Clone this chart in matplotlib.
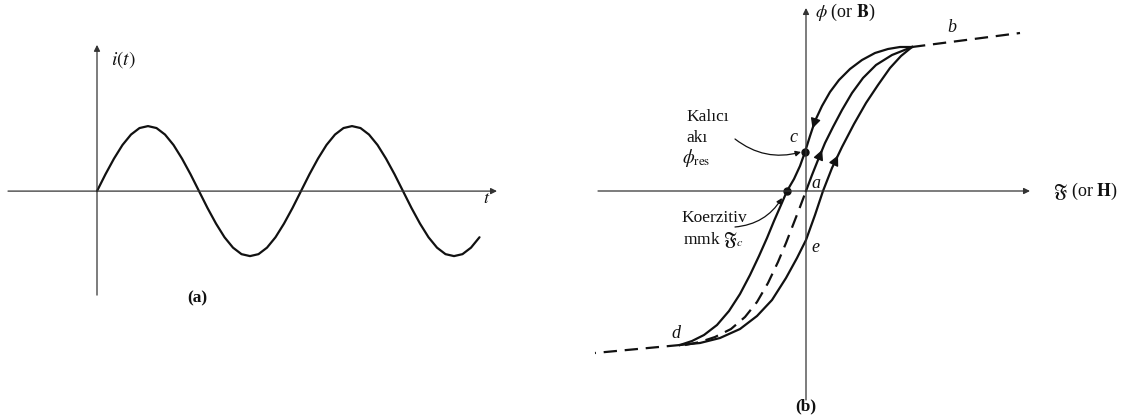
import numpy as np
import matplotlib
matplotlib.use('Agg')
import matplotlib.pyplot as plt

plt.rcParams['font.family'] = ['Liberation Serif', 'DejaVu Serif']
plt.rcParams['mathtext.fontset'] = 'stix'

INK = '#111111'
AXIS = '#333333'

# (a) sinusoidal current, sampled every 1/24 of a period
t_step = 0.085
i_vals = [0, .26, .5, .71, .87, .97, 1, .97, .87, .71, .5, .26,
          0, -.26, -.5, -.71, -.87, -.97, -1, -.97, -.87, -.71, -.5, -.26,
          0, .26, .5, .71, .87, .97, 1, .97, .87, .71, .5, .26,
          0, -.26, -.5, -.71, -.87, -.97, -1, -.97, -.87, -.71]
t_vals = np.arange(len(i_vals)) * t_step

# (b) hysteresis loop: flux phi against mmf F
# descending branch b -> c -> d
desc_H = [1.06, 0.94, 0.82, 0.69, 0.56, 0.44, 0.33, 0.24, 0.16, 0.09,
          0.04, -0.01, -0.06, -0.12, -0.19, -0.25, -0.32, -0.39, -0.47,
          -0.56, -0.66, -0.77, -0.89, -1.02, -1.14, -1.26]
desc_phi = [1.44, 1.44, 1.42, 1.38, 1.31, 1.22, 1.11, 0.99, 0.85, 0.70,
            0.55, 0.39, 0.25, 0.12, 0.0, -0.14, -0.30, -0.47, -0.65,
            -0.84, -1.03, -1.20, -1.34, -1.44, -1.50, -1.54]

# ascending branch d -> e -> b
asc_H = [-1.26, -1.06, -0.86, -0.66, -0.49, -0.34, -0.20, -0.09, 0.0, 0.09,
         0.17, 0.26, 0.36, 0.48, 0.60, 0.72, 0.84, 0.95, 1.06]
asc_phi = [-1.54, -1.52, -1.47, -1.38, -1.25, -1.09, -0.87, -0.67, -0.49, -0.24,
           0.0, 0.23, 0.44, 0.67, 0.88, 1.06, 1.23, 1.35, 1.44]

# initial magnetisation curve a -> b, and its dashed continuation below a
init_H = [0.0, 0.06, 0.12, 0.19, 0.27, 0.36, 0.46, 0.57, 0.70, 0.86, 1.06]
init_phi = [0.0, 0.16, 0.31, 0.48, 0.64, 0.81, 0.98, 1.13, 1.26, 1.36, 1.44]
init_dash_H = [-1.21, -1.06, -0.91, -0.75, -0.61, -0.49, -0.38, -0.28,
               -0.20, -0.13, -0.06, 0.0]
init_dash_phi = [-1.54, -1.51, -1.46, -1.38, -1.26, -1.11, -0.92, -0.71,
                 -0.52, -0.34, -0.16, 0.0]

sat_hi_H, sat_hi_phi = [1.06, 2.14], [1.44, 1.58]
sat_lo_H, sat_lo_phi = [-1.26, -2.11], [-1.54, -1.62]

res_point = (-0.01, 0.39)
coer_point = (-0.19, 0.0)

fig = plt.figure(figsize=(11.36, 4.16), dpi=100)

ax1 = fig.add_axes([0, 0, 560 / 1136, 1])
ax2 = fig.add_axes([560 / 1136, 0, 576 / 1136, 1])
ax1.set_xlim(-0.97, 4.63)
ax1.set_ylim(-3.46, 2.94)
ax2.set_xlim(-2.46, 3.30)
ax2.set_ylim(-2.25, 1.91)
for ax in (ax1, ax2):
    ax.axis('off')


def axis_arrow(ax, start, end):
    ax.annotate('', xy=end, xytext=start,
                arrowprops=dict(arrowstyle='-|>', color=AXIS, lw=0.9,
                                mutation_scale=9, shrinkA=0, shrinkB=0))


def curve_arrow(ax, xs, ys, k, frac=0.5):
    # small filled head sitting on segment k of a curve, pointing along it
    p0 = np.array([xs[k], ys[k]])
    p1 = np.array([xs[k + 1], ys[k + 1]])
    tip = p0 + (p1 - p0) * frac
    tail = p0 + (p1 - p0) * (frac - 0.4)
    ax.annotate('', xy=tip, xytext=tail,
                arrowprops=dict(arrowstyle='-|>,head_length=0.5,head_width=0.25',
                                color=INK, lw=1.0, mutation_scale=12,
                                shrinkA=0, shrinkB=0))


# --- (a) ---
axis_arrow(ax1, (-0.89, 0), (4.0, 0))
axis_arrow(ax1, (0, -1.6), (0, 2.25))
ax1.plot(t_vals, i_vals, color=INK, lw=1.6, solid_joinstyle='round',
         solid_capstyle='round')
ax1.text(0.14, 2.02, r'$i(t)$', fontsize=14, ha='left', va='center', color=INK)
ax1.text(3.9, -0.12, r'$t$', fontsize=13, ha='center', va='center', color=INK)
ax1.text(1.0, -1.65, '(a)', fontsize=12.5, fontweight='bold', ha='center',
         va='center', color=INK)

# --- (b) ---
axis_arrow(ax2, (-2.08, 0), (2.24, 0))
axis_arrow(ax2, (0, -2.09), (0, 1.83))

line_kw = dict(color=INK, lw=1.6, solid_joinstyle='round')
ax2.plot(desc_H, desc_phi, **line_kw)
ax2.plot(asc_H, asc_phi, **line_kw)
ax2.plot(init_H, init_phi, **line_kw)
ax2.plot(init_dash_H, init_dash_phi, color=INK, lw=1.6, dashes=(6, 3.5))
ax2.plot(sat_hi_H, sat_hi_phi, color=INK, lw=1.6, dashes=(6, 3.5))
ax2.plot(sat_lo_H, sat_lo_phi, color=INK, lw=1.6, dashes=(6, 3.5))

curve_arrow(ax2, desc_H, desc_phi, 9, 0.5)
curve_arrow(ax2, init_H, init_phi, 2, 0.6)
curve_arrow(ax2, asc_H, asc_phi, 11, 0.6)

ax2.plot(*res_point, 'o', color=INK, ms=5)
ax2.plot(*coer_point, 'o', color=INK, ms=5)

ax2.text(0.09, 1.79, r'$\phi$ (or $\mathbf{B}$)', fontsize=13, ha='left',
         va='center', color=INK)
ax2.text(2.47, 0.0, r'$\mathfrak{F}$ (or $\mathbf{H}$)', fontsize=13, ha='left',
         va='center', color=INK)

for lbl, x, y in [('b', 1.46, 1.63), ('c', -0.13, 0.54), ('a', 0.10, 0.08),
                  ('e', 0.09, -0.57), ('d', -1.30, -1.43)]:
    ax2.text(x, y, lbl, fontsize=13, style='italic', ha='center', va='center',
             color=INK)

ax2.text(-1.20, 0.74, 'Kalıcı', fontsize=12.5, ha='left', va='center', color=INK)
ax2.text(-1.20, 0.53, 'akı', fontsize=12.5, ha='left', va='center', color=INK)
ax2.text(-1.24, 0.33, r'$\phi_{\rm res}$', fontsize=13.5, ha='left', va='center',
         color=INK)
ax2.annotate('', xy=(-0.05, 0.39), xytext=(-0.71, 0.52),
             arrowprops=dict(arrowstyle='-|>', color=INK, lw=0.9,
                             mutation_scale=8, shrinkA=0, shrinkB=0,
                             connectionstyle='arc3,rad=0.25'))

ax2.text(-1.25, -0.27, 'Koerzitiv', fontsize=12.5, ha='left', va='center',
         color=INK)
ax2.text(-1.23, -0.49, r'mmk $\mathfrak{F}_c$', fontsize=12.5, ha='left',
         va='center', color=INK)
ax2.annotate('', xy=(-0.24, -0.07), xytext=(-0.71, -0.36),
             arrowprops=dict(arrowstyle='-|>', color=INK, lw=0.9,
                             mutation_scale=8, shrinkA=0, shrinkB=0,
                             connectionstyle='arc3,rad=0.25'))

ax2.text(0.0, -2.15, '(b)', fontsize=12.5, fontweight='bold', ha='center',
         va='center', color=INK)

fig.savefig('out.png', dpi=100)
